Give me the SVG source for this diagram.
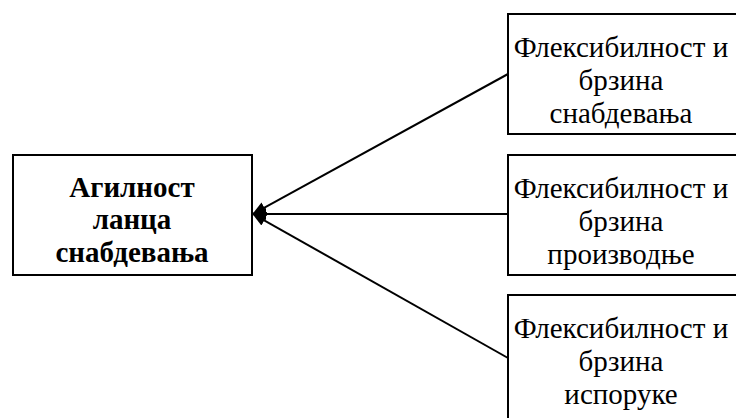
<svg xmlns="http://www.w3.org/2000/svg" width="736" height="418" viewBox="0 0 736 418">
<style>
.box{fill:#fff;stroke:#000;stroke-width:2}
.t{font-family:"Liberation Serif","Times New Roman",serif;font-size:29px;text-anchor:middle;fill:#000}
.b{font-weight:bold}
.c{stroke:#000;stroke-width:2;fill:none;marker-end:url(#ah)}
</style>
<defs>
<marker id="ah" markerWidth="14" markerHeight="14" refX="13" refY="7" orient="auto" markerUnits="userSpaceOnUse" viewBox="0 0 14 14">
<path d="M0,1 L14,7 L0,13 z" fill="#000"/>
</marker>
</defs>
<rect width="736" height="418" fill="#fff"/>
<g id="connectors">
<line class="c" x1="508" y1="74" x2="253" y2="214"/>
<line class="c" x1="508" y1="214" x2="253" y2="214"/>
<line class="c" x1="508" y1="358" x2="253" y2="214"/>
</g>
<g id="agility">
<rect class="box" x="13" y="155" width="239" height="120"/>
<text class="t b" x="132" y="197">Агилност</text>
<text class="t b" x="132" y="229">ланца</text>
<text class="t b" x="132" y="262">снабдевања</text>
</g>
<g id="supply">
<rect class="box" x="508" y="14" width="232" height="120"/>
<text class="t" x="621" y="57">Флексибилност и</text>
<text class="t" x="621" y="90">брзина</text>
<text class="t" x="621" y="123">снабдевања</text>
</g>
<g id="production">
<rect class="box" x="508" y="155" width="232" height="120"/>
<text class="t" x="621" y="198">Флексибилност и</text>
<text class="t" x="621" y="231">брзина</text>
<text class="t" x="621" y="264">производње</text>
</g>
<g id="delivery">
<rect class="box" x="508" y="295" width="232" height="130"/>
<text class="t" x="621" y="338">Флексибилност и</text>
<text class="t" x="621" y="371">брзина</text>
<text class="t" x="621" y="404">испоруке</text>
</g>
</svg>
